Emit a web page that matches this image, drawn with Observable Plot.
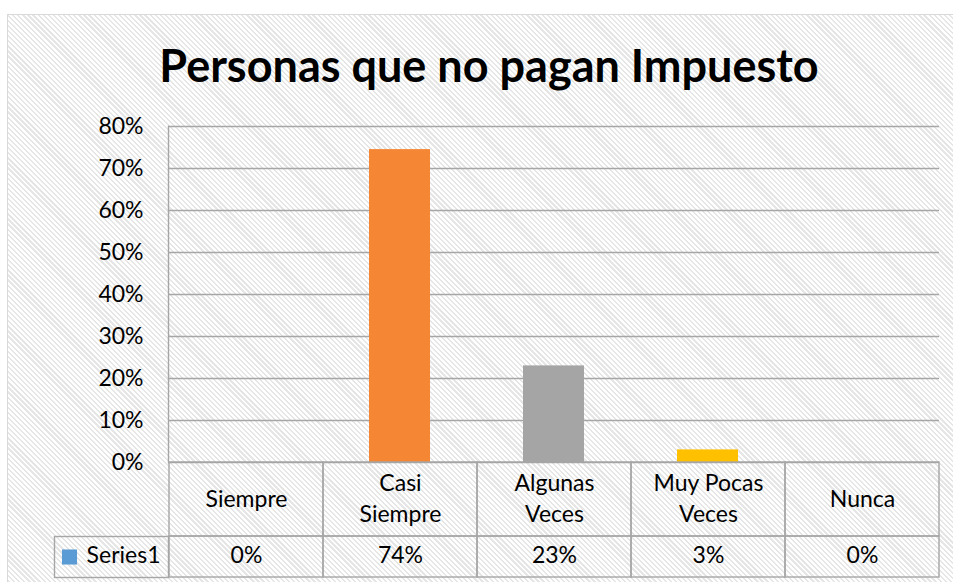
<!DOCTYPE html>
<html>
<head>
<meta charset="utf-8">
<script src="https://cdn.jsdelivr.net/npm/d3@7"></script>
<script src="https://cdn.jsdelivr.net/npm/@observablehq/plot@0.6"></script>
<style>
  html, body { margin: 0; padding: 0; background: #ffffff; }
  #wrap { position: relative; width: 953px; height: 582px; overflow: hidden; font-family: Lato, "Open Sans", sans-serif; }
  #bg {
    position: absolute; left: 7px; top: 14px; width: 960px; height: 600px;
    border: 1px solid #d9d9d9;
    background: repeating-linear-gradient(45deg, #ffffff 0px, #ffffff 2px, #e6e6e6 2px, #e6e6e6 3.6px);
  }
  #title {
    position: absolute; left: 7px; width: 964px; top: 38px; text-align: center;
    font: bold 45px Lato, "Open Sans", sans-serif; color: #000; white-space: nowrap;
  }
  #chart { position: absolute; left: 0; top: 0; }
  #chart svg { background: transparent !important; overflow: visible; }
</style>
</head>
<body>
<div id="wrap">
  <div id="bg"></div>
  <div id="title">Personas que no pagan Impuesto</div>
  <div id="chart"></div>
</div>
<script>
// ---- data ----
const categories = ["Siempre", "Casi Siempre", "Algunas Veces", "Muy Pocas Veces", "Nunca"];
const categoryLabels = ["Siempre", "Casi\nSiempre", "Algunas\nVeces", "Muy Pocas\nVeces", "Nunca"];
const values = [0, 0.745, 0.23, 0.03, 0];
const valueLabels = ["0%", "74%", "23%", "3%", "0%"];
const barColors = ["#5B9BD5", "#F58634", "#A5A5A5", "#FFC000", "#4472C4"];
const seriesName = "Series1";
const seriesColor = "#5B9BD5";
const yTicks = [0, 0.1, 0.2, 0.3, 0.4, 0.5, 0.6, 0.7, 0.8];

const data = categories.map((c, i) => ({
  cat: c, label: categoryLabels[i], value: values[i], vlabel: valueLabels[i], color: barColors[i]
}));

const W = 953, H = 582;
const mL = 168, mR = 14, mT = 126, mB = 120;
const frameH = H - mT - mB;           // 336
const catRow = 74, valRow = 41;
const lineColor = "#a6a6a6";
const fontSize = 23;

const chart = Plot.plot({
  width: W, height: H,
  marginLeft: mL, marginRight: mR, marginTop: mT, marginBottom: mB,
  style: { background: "transparent", fontFamily: "Lato, 'Open Sans', sans-serif", fontSize: fontSize + "px", color: "#000" },
  x: { type: "band", domain: categories, paddingInner: 0, paddingOuter: 0, axis: null },
  y: { domain: [0, 0.8], axis: null },
  marks: [
    Plot.gridY(yTicks, { stroke: lineColor, strokeOpacity: 1, strokeWidth: 1.4 }),
    Plot.axisY(yTicks, { tickSize: 0, tickPadding: 25, tickFormat: d3.format(".0%"), fontSize: fontSize, fill: "#000", label: null }),
    Plot.frame({ anchor: "left", stroke: lineColor, strokeWidth: 1.4 }),
    Plot.barY(data, {
      x: "cat", y: "value", fill: "color", insetLeft: 46, insetRight: 47,
      style: "filter: drop-shadow(0px 0px 3px rgba(0,0,0,0.25))"
    }),
    // data table: category row
    Plot.barY(data, { x: "cat", y1: 0, y2: 0, insetBottom: -catRow, fill: "none", stroke: lineColor, strokeWidth: 1.4 }),
    // data table: value row
    Plot.barY(data, { x: "cat", y1: 0, y2: 0, insetTop: catRow, insetBottom: -(catRow + valRow), fill: "none", stroke: lineColor, strokeWidth: 1.4 }),
    // series header cell
    Plot.frame({ insetTop: frameH + catRow, insetBottom: -valRow - catRow, insetLeft: -114, insetRight: W - mL - mR, stroke: lineColor, strokeWidth: 1.4 }),
    Plot.text(data, { x: "cat", y: 0, text: "label", dy: catRow / 2 - 3, lineAnchor: "middle", lineHeight: 1.36, fontSize: fontSize, fill: "#000" }),
    Plot.text(data, { x: "cat", y: 0, text: "vlabel", dy: catRow + valRow / 2 - 1, lineAnchor: "middle", fontSize: fontSize, fill: "#000" }),
    Plot.dot([seriesName], { frameAnchor: "bottom-left", dx: -99, dy: catRow + valRow / 2, symbol: "square", r: 8.5, fill: seriesColor, stroke: null }),
    Plot.text([seriesName], { frameAnchor: "bottom-left", text: d => d, dx: -8, dy: catRow + valRow / 2 - 1, textAnchor: "end", lineAnchor: "middle", fontSize: fontSize, fill: "#000" })
  ]
});
document.getElementById("chart").appendChild(chart);
</script>
</body>
</html>
